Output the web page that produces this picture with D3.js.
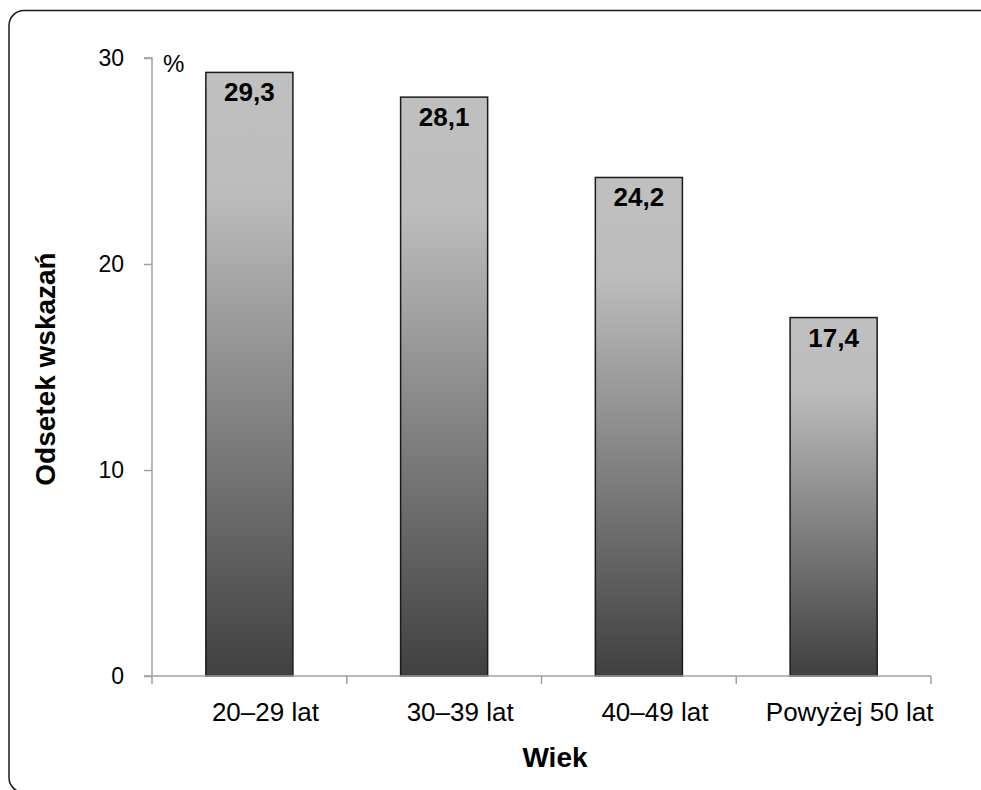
<!DOCTYPE html>
<html>
<head>
<meta charset="utf-8">
<script src="https://cdn.jsdelivr.net/npm/d3@7"></script>
<style>
  body { margin: 0; background: #fff; }
  text { font-family: "Liberation Sans", Arial, sans-serif; }
</style>
</head>
<body>
<script>
const largura = 981
const altura = 790
const margem = {topo: 58, direita: 50, baixo: 114, esquerda: 152}

const grupos = ['20–29 lat', '30–39 lat', '40–49 lat', 'Powyżej 50 lat']
const odsetki = [29.3, 28.1, 24.2, 17.4]
const ticksY = [0, 10, 20, 30]

const larguraGrafico = largura - margem.esquerda - margem.direita
const alturaGrafico = altura - margem.topo - margem.baixo

var svg = d3.select('body').append('svg')
  .attr('width', largura)
  .attr('height', altura)

// moldura arredondada (sai da imagem a direita e embaixo)
svg.append('rect')
  .attr('x', 9).attr('y', 10.5)
  .attr('width', 1000).attr('height', 782)
  .attr('rx', 15).attr('ry', 15)
  .attr('fill', 'none')
  .attr('stroke', '#1a1a1a')
  .attr('stroke-width', 1.5)

var grad = svg.append('defs').append('linearGradient')
  .attr('id', 'gradBarra')
  .attr('x1', 0).attr('y1', 0).attr('x2', 0).attr('y2', 1)
grad.append('stop').attr('offset', '0%').attr('stop-color', '#c0c0c0')
grad.append('stop').attr('offset', '20%').attr('stop-color', '#bcbcbc')
grad.append('stop').attr('offset', '100%').attr('stop-color', '#404040')

var grupo = svg.append('g')
  .attr('transform', 'translate(' + margem.esquerda + ',' + margem.topo + ')')

var escalaX = d3.scaleBand().domain(grupos).range([0, larguraGrafico]).paddingInner(0.553).paddingOuter(0.2765)
var escalaY = d3.scaleLinear().domain([0, 30]).range([alturaGrafico, 0])

// barras
grupo.selectAll('rect.barra')
  .data(odsetki)
  .enter().append('rect')
  .attr('class', 'barra')
  .attr('x', (d, i) => escalaX(grupos[i]))
  .attr('y', d => escalaY(d))
  .attr('width', escalaX.bandwidth())
  .attr('height', d => alturaGrafico - escalaY(d))
  .attr('fill', 'url(#gradBarra)')
  .attr('stroke', '#1a1a1a')
  .attr('stroke-width', 1.5)

// rotulos de valor
grupo.selectAll('text.valor')
  .data(odsetki)
  .enter().append('text')
  .attr('class', 'valor')
  .attr('x', (d, i) => escalaX(grupos[i]) + escalaX.bandwidth() / 2)
  .attr('y', d => escalaY(d) + 29)
  .attr('text-anchor', 'middle')
  .style('font-weight', 'bold')
  .style('font-size', '26px')
  .attr('fill', '#000')
  .text(d => d3.format('.1f')(d).replace('.', ','))

// eixo Y
var eixoY = d3.axisLeft(escalaY).tickValues(ticksY).tickSize(8).tickPadding(20)
var gEixoY = grupo.append('g').call(eixoY)
gEixoY.select('.domain').attr('stroke', '#a0a0a0').attr('stroke-width', 1.5).attr('d', 'M0,' + alturaGrafico + 'V0H-8')
gEixoY.selectAll('.tick line').attr('stroke', '#a0a0a0').attr('stroke-width', 1.5)
gEixoY.selectAll('.tick text').style('font-size', '23px').attr('fill', '#000').attr('font-family', null)

// eixo X
var escalaXTicks = d3.scaleLinear().domain([0, grupos.length]).range([0, larguraGrafico])
var gEixoX = grupo.append('g').attr('transform', 'translate(0,' + alturaGrafico + ')')
gEixoX.append('line').attr('x1', -8).attr('x2', larguraGrafico)
  .attr('stroke', '#a0a0a0').attr('stroke-width', 1.5)
gEixoX.selectAll('line.tickX')
  .data(d3.range(grupos.length + 1))
  .enter().append('line')
  .attr('class', 'tickX')
  .attr('x1', d => escalaXTicks(d)).attr('x2', d => escalaXTicks(d))
  .attr('y1', 0).attr('y2', 8)
  .attr('stroke', '#a0a0a0').attr('stroke-width', 1.5)
gEixoX.selectAll('text.rotuloX')
  .data(grupos)
  .enter().append('text')
  .attr('class', 'rotuloX')
  .attr('x', d => escalaX(d) + escalaX.bandwidth() / 2 + 16)
  .attr('y', 45)
  .attr('text-anchor', 'middle')
  .style('font-size', '26px')
  .text(d => d)

// unidade
grupo.append('text')
  .attr('x', 11).attr('y', 14)
  .style('font-size', '24px')
  .text('%')

// titulos dos eixos
svg.append('text')
  .attr('transform', 'translate(55,' + 369 + ') rotate(-90)')
  .attr('text-anchor', 'middle')
  .style('font-weight', 'bold')
  .style('font-size', '28px')
  .text('Odsetek wskazań')

svg.append('text')
  .attr('x', 555).attr('y', 767)
  .attr('text-anchor', 'middle')
  .style('font-weight', 'bold')
  .style('font-size', '28px')
  .text('Wiek')
</script>
</body>
</html>
